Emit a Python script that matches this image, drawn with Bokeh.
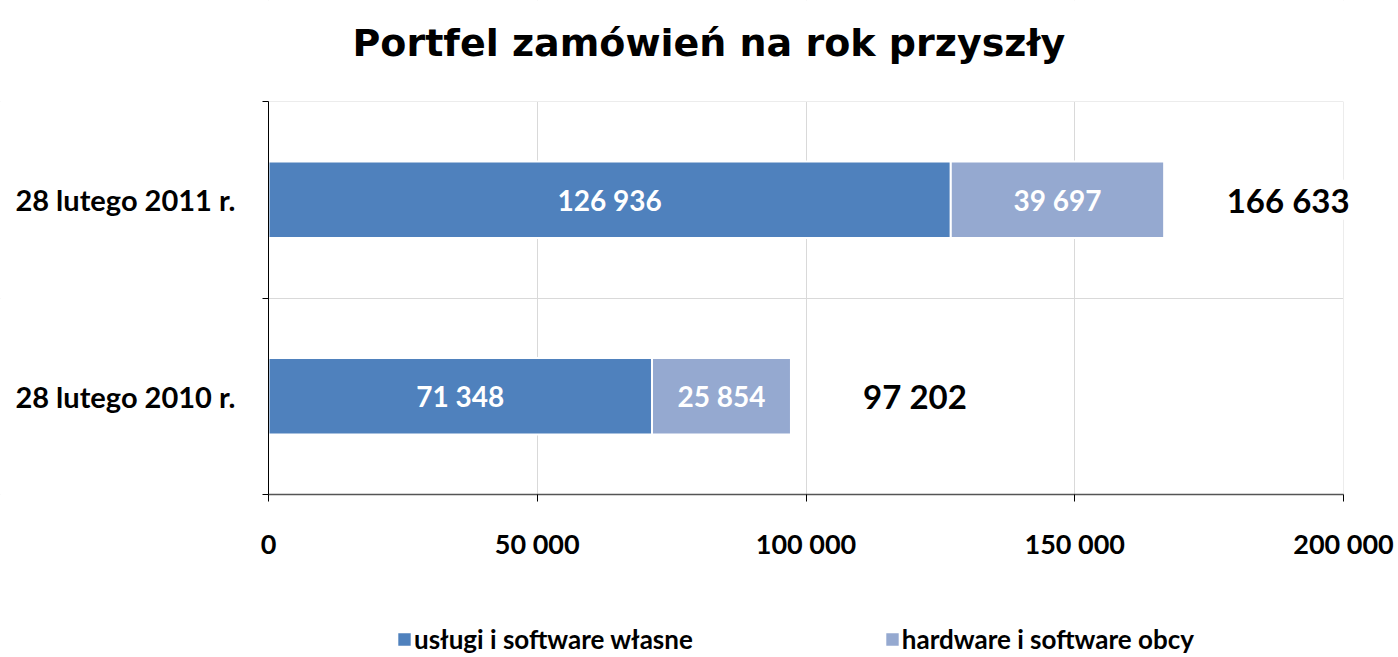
from bokeh.plotting import figure
from bokeh.models import (ColumnDataSource, FixedTicker, Legend, LegendItem,
                          BoxAnnotation, Label)
from bokeh.core.properties import value
from bokeh.embed import file_html
from bokeh.resources import INLINE

# ---- data ----
title = "Portfel zamówień na rok przyszły"
categories = ["28 lutego 2010 r.", "28 lutego 2011 r."]
uslugi = [71348, 126936]
hardware = [25854, 39697]
series_names = ["usługi i software własne", "hardware i software obcy"]
x_ticks = [0, 50000, 100000, 150000, 200000]

def fmt(v):
    return f"{v:,}".replace(",", " ")

totals = [a + b for a, b in zip(uslugi, hardware)]
n = len(categories)
ypos = [i + 0.5 for i in range(n)]

C1 = "#4F81BD"
C2 = "#95A9D0"
FONT = "Lato"
GRID = "#D9D9D9"

# layout (pixels): plot area inside the full canvas
W, H = 1398, 657
TOP, AXIS_Y, LEFT, RIGHT = 101, 494, 268, 1343
xmax = x_ticks[-1]
xpp = xmax / (RIGHT - LEFT)
ypp = n / (AXIS_Y - TOP)
x_range = (-LEFT * xpp, xmax + (W - RIGHT) * xpp)
y_range = (-(H - AXIS_Y) * ypp, n + TOP * ypp)

src = ColumnDataSource(dict(
    y=ypos,
    u=uslugi,
    h=hardware,
    tot=totals,
    u_mid=[u / 2 for u in uslugi],
    h_mid=[u + h / 2 for u, h in zip(uslugi, hardware)],
    u_lab=[fmt(v) for v in uslugi],
    h_lab=[fmt(v) for v in hardware],
    t_lab=[fmt(v) for v in totals],
))

p = figure(width=W, height=H, output_backend="svg", toolbar_location=None,
           x_range=x_range, y_range=y_range,
           min_border_left=0, min_border_right=0,
           min_border_top=0, min_border_bottom=0)
p.outline_line_color = None
p.background_fill_color = "white"
p.border_fill_color = "white"

# gridlines only inside the plot area
for kw in (dict(top=0), dict(bottom=n), dict(right=0), dict(left=xmax)):
    p.add_layout(BoxAnnotation(fill_color="white", fill_alpha=1,
                               line_color=None, level="underlay", **kw))

r1 = p.hbar(y="y", left=0, right="u", height=0.39, source=src,
            fill_color=C1, line_color="white", line_width=2)
r2 = p.hbar(y="y", left="u", right="tot", height=0.39, source=src,
            fill_color=C2, line_color="white", line_width=2)

p.text(x="u_mid", y="y", text="u_lab", source=src, text_align="center",
       text_baseline="middle", text_color="white", text_font=value(FONT),
       text_font_style="bold", text_font_size="28px")
p.text(x="h_mid", y="y", text="h_lab", source=src, text_align="center",
       text_baseline="middle", text_color="white", text_font=value(FONT),
       text_font_style="bold", text_font_size="28px")
p.text(x="tot", y="y", text="t_lab", source=src, text_align="center",
       text_baseline="middle", text_color="black", text_font=value(FONT),
       text_font_style="bold", text_font_size="33px", x_offset=124,
       background_fill_color="white")

# title
p.add_layout(Label(x=352, y=H - 42, x_units="screen", y_units="screen",
                   text=title, text_font="DejaVu Sans", text_font_style="bold",
                   text_font_size="38px", text_color="black",
                   text_align="left", text_baseline="alphabetic"))

# x axis
p.xaxis.fixed_location = 0
p.xaxis.bounds = (0, xmax)
p.xaxis.ticker = FixedTicker(ticks=x_ticks)
p.xaxis.major_label_overrides = {t: fmt(t) for t in x_ticks}
p.xaxis.major_label_text_font = FONT
p.xaxis.major_label_text_font_style = "bold"
p.xaxis.major_label_text_font_size = "27px"
p.xaxis.major_label_text_color = "black"
p.xaxis.major_label_standoff = 25
p.xaxis.major_tick_out = 7
p.xaxis.major_tick_in = 0
p.xaxis.major_tick_line_color = "black"
p.xaxis.minor_tick_line_color = None
p.xaxis.axis_line_color = "#555555"
p.xaxis.axis_line_width = 1.5

# y axis
bounds = list(range(n + 1))
p.yaxis.fixed_location = 0
p.yaxis.bounds = (0, n)
p.yaxis.ticker = FixedTicker(ticks=ypos, minor_ticks=bounds)
p.yaxis.major_label_overrides = {y: c for y, c in zip(ypos, categories)}
p.yaxis.major_label_text_font = FONT
p.yaxis.major_label_text_font_style = "bold"
p.yaxis.major_label_text_font_size = "29px"
p.yaxis.major_label_text_color = "black"
p.yaxis.major_tick_line_color = None
p.yaxis.major_tick_out = 0
p.yaxis.major_tick_in = 0
p.yaxis.major_label_standoff = 27
p.yaxis.minor_tick_line_color = "black"
p.yaxis.minor_tick_out = 6
p.yaxis.minor_tick_in = 0
p.yaxis.axis_line_color = "black"

p.xgrid.ticker = FixedTicker(ticks=x_ticks)
p.xgrid.grid_line_color = GRID
p.ygrid.ticker = FixedTicker(ticks=bounds)
p.ygrid.grid_line_color = GRID

legend = Legend(items=[LegendItem(label=series_names[0], renderers=[r1]),
                       LegendItem(label=series_names[1], renderers=[r2])],
                orientation="horizontal", location=(395, 2),
                label_text_font=FONT, label_text_font_style="bold",
                label_text_font_size="26px", label_text_color="black",
                glyph_width=18, glyph_height=18,
                label_standoff=1, spacing=190, padding=0, margin=0,
                border_line_color=None, background_fill_alpha=0)
p.add_layout(legend, "center")

open("out.html", "w").write(file_html(p, INLINE))
